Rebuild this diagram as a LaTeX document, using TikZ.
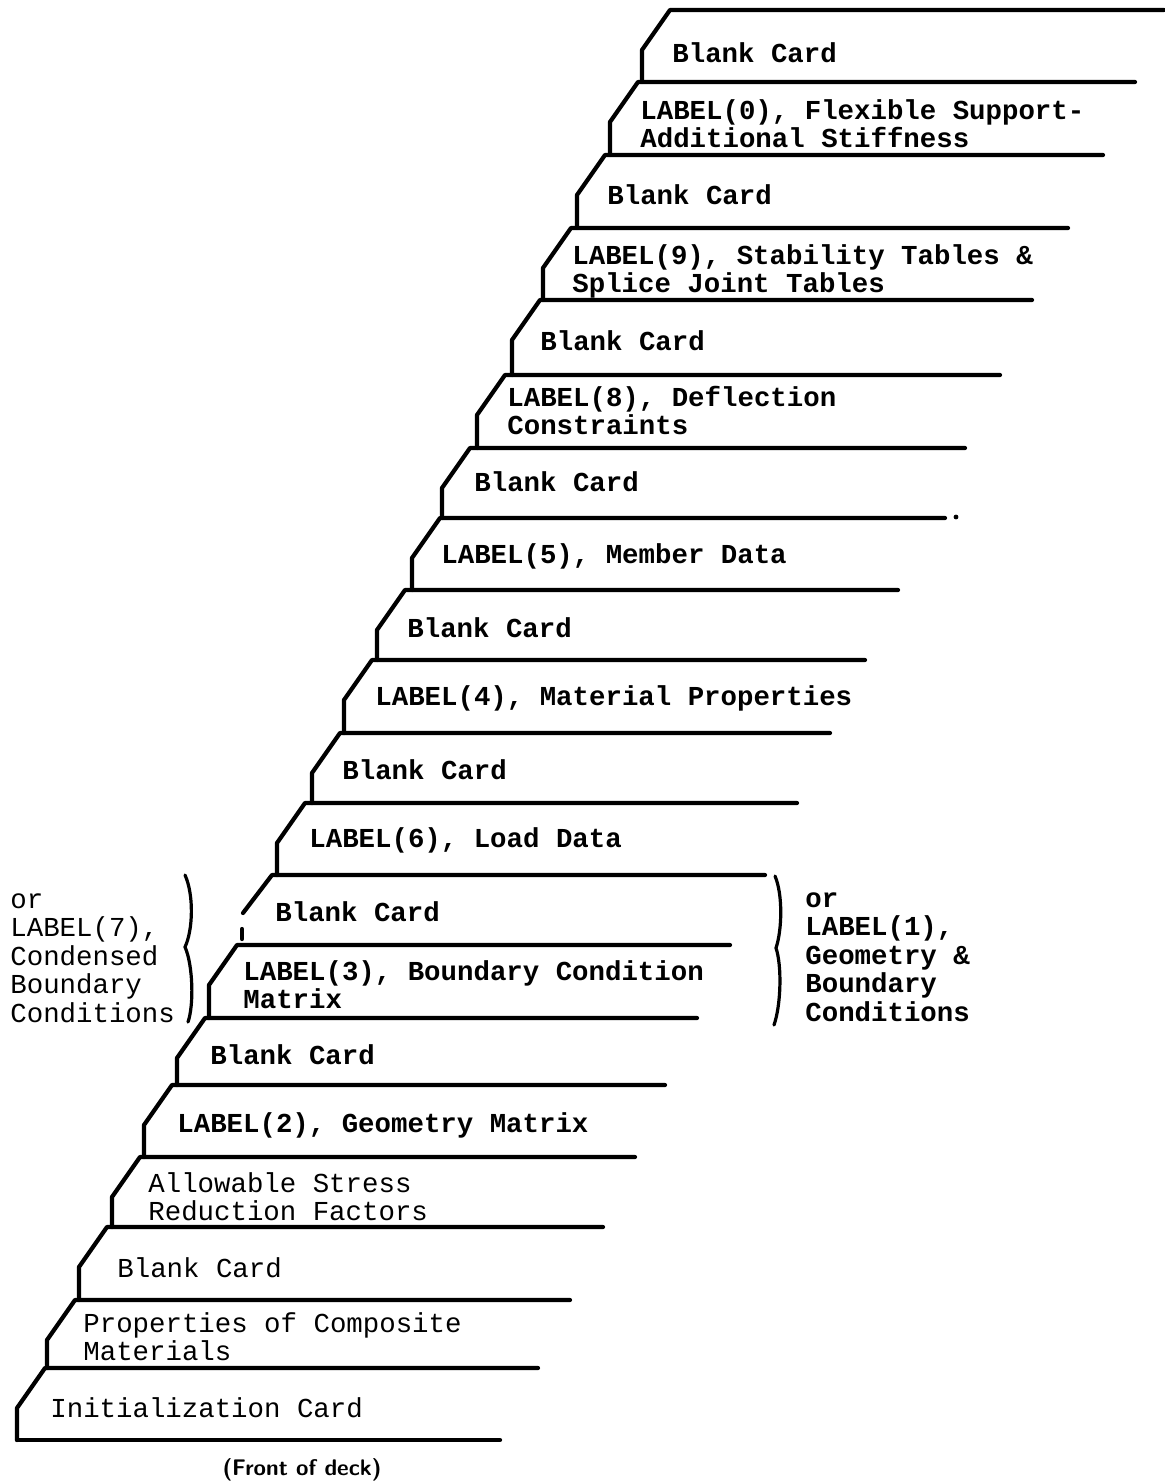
\documentclass[tikz,border=0pt]{standalone}
\usepackage{fontspec}
\setmainfont{Liberation Sans}
\setmonofont{Liberation Mono}
\newcommand{\cardfont}{\ttfamily\fontsize{13.7}{14}\selectfont}
\begin{document}
\begin{tikzpicture}[x=0.5pt,y=-0.5pt,
  cardline/.style={line width=2.1pt, line cap=round, line join=round},
  bracestyle/.style={line width=1.6pt, line cap=round},
  cardtext/.style={anchor=west, inner sep=0pt, align=left, font=\cardfont\bfseries},
  lighttext/.style={anchor=west, inner sep=0pt, align=left, font=\cardfont},
  alttext/.style={anchor=west, inner sep=0pt, align=left, font=\ttfamily\fontsize{13.7}{14.3}\selectfont}]
\useasboundingbox (0,0) rectangle (1164,1481);
% cards: line start x / top y / line end x / next top y
\foreach \xs/\yy/\xe/\yn in {
  670/10/1164/82, 638/82/1135/155, 605/155/1103/228, 571/228/1068/300,
  540/300/1032/375, 505/375/1000/448, 470/448/965/518, 440/518/945/590,
  405/590/898/660, 372/660/865/733, 340/733/830/803, 305/803/797/875,
  237/945/730/1018, 205/1018/697/1085, 172/1085/665/1157,
  140/1157/635/1227, 107/1227/603/1300, 75/1300/570/1368, 45/1368/538/1440}{
  \draw[cardline] (\xe,\yy) -- (\xs,\yy) -- (\xs-28,\yy+40) -- (\xs-28,\yn);
}
% small dot at end of one card edge
\fill (956,517) circle (2.4);
% broken card edge
\draw[cardline] (765,875) -- (272,875) -- (243,913);
\draw[cardline] (242,929) -- (242,939);
% bottom edge
\draw[cardline] (17,1440) -- (500,1440);

% texts
\node[cardtext] (c1) at (672,53) {Blank Card};
\node[cardtext] (c2) at (640,124) {LABEL(0), Flexible Support-\\Additional Stiffness};
\node[cardtext] (c3) at (607,195) {Blank Card};
\node[cardtext] (c4) at (572,271) {LABEL(9), Stability Tables \&\\Splice Joint Tables};
\node[cardtext] (c5) at (540,341) {Blank Card};
\node[cardtext] (c6) at (507,411) {LABEL(8), Deflection\\Constraints};
\node[cardtext] (c7) at (474,482) {Blank Card};
\node[cardtext] (c8) at (441,556) {LABEL(5), Member Data};
\node[cardtext] (c9) at (407,628) {Blank Card};
\node[cardtext] (c10) at (375,698) {LABEL(4), Material Properties};
\node[cardtext] (c11) at (342,770) {Blank Card};
\node[cardtext] (c12) at (309,840) {LABEL(6), Load Data};
\node[cardtext] (c13) at (275,912) {Blank Card};
\node[cardtext] (c14) at (243,985) {LABEL(3), Boundary Condition\\Matrix};
\node[cardtext] (c15) at (210,1055) {Blank Card};
\node[cardtext] (c16) at (177,1125) {LABEL(2), Geometry Matrix};
\node[lighttext] (c17) at (148,1197) {Allowable Stress\\Reduction Factors};
\node[lighttext] (c18) at (117,1268) {Blank Card};
\node[lighttext] (c19) at (83,1337) {Properties of Composite\\Materials};
\node[lighttext] (c20) at (50,1408) {Initialization Card};

\node[alttext] (alt7) at (10,958) {or\\LABEL(7),\\Condensed\\Boundary\\Conditions};
\node[alttext,font=\ttfamily\bfseries\fontsize{13.7}{14.3}\selectfont] (alt1) at (805,957) {or\\LABEL(1),\\Geometry \&\\Boundary\\Conditions};

% braces
\draw[bracestyle] (185,875) .. controls (194,895) and (193,930) .. (185,947)
                  .. controls (193,965) and (194,1005) .. (188,1022);
\draw[bracestyle] (775,876) .. controls (783,895) and (782,930) .. (776,948)
                  .. controls (782,966) and (781,1005) .. (774,1025);

\node[font=\sffamily\bfseries\fontsize{11.3}{13}\selectfont, inner sep=0pt] (front) at (302,1470) {(Front of deck)};
\end{tikzpicture}
\end{document}
